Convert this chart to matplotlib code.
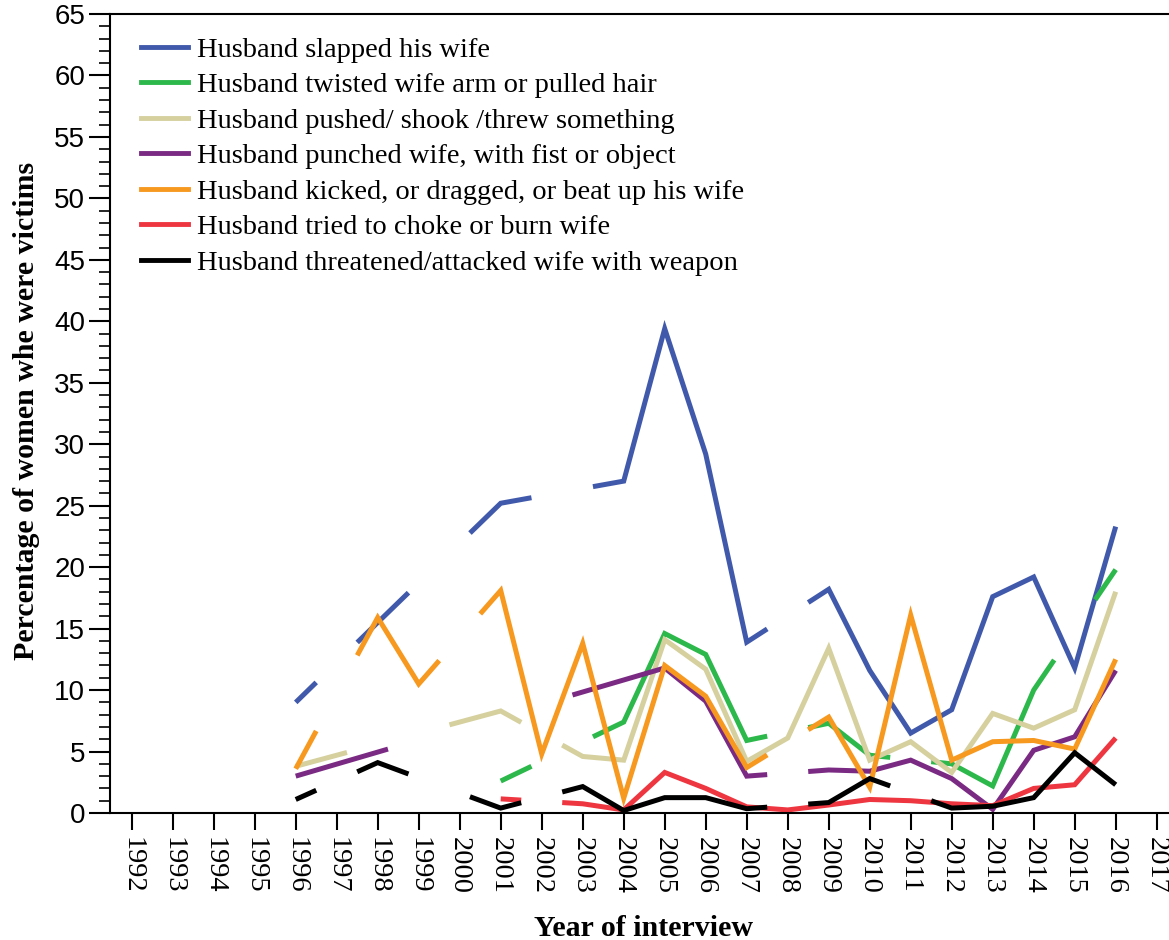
import numpy as np
import matplotlib
matplotlib.use("Agg")
import matplotlib.pyplot as plt
from matplotlib.lines import Line2D
from matplotlib.ticker import MultipleLocator

# survey years on the axis, data only for 1996-2016
tick_years = list(range(1992, 2018))
data_years = list(range(1996, 2017))

# percentage of women who were victims, None = no survey that year
slapped = [9.0, None, 15.5, None, None, 25.2, None, None, 27.0, 39.4, 29.2,
           13.9, None, 18.2, 11.6, 6.5, 8.4, 17.6, 19.2, 11.8, 23.3]
twisted = [None, None, None, None, None, 2.6, None, None, 7.4, 14.6, 12.9,
           5.9, None, 7.3, 4.7, None, 4.0, 2.2, 10.0, None, 19.8]
pushed = [3.8, None, None, None, None, 8.3, None, 4.6, 4.3, 14.1, 11.7,
          4.2, 6.1, 13.4, 4.3, 5.8, 3.3, 8.1, 6.9, 8.4, 18.0]
punched = [3.0, None, None, None, None, None, None, None, None, 11.8, 9.1,
           3.0, None, 3.5, 3.4, 4.3, 2.8, 0.3, 5.1, 6.2, 11.6]
kicked = [3.6, None, 15.9, 10.5, None, 18.1, 4.8, 13.8, 1.2, 12.0, 9.5,
          3.7, None, 7.8, 2.1, 16.1, 4.3, 5.8, 5.9, 5.2, 12.5]
choke = [None, None, None, None, None, 1.15, None, 0.75, 0.25, 3.3, 2.0,
         0.5, 0.25, 0.65, 1.1, 1.0, 0.75, 0.6, 2.0, 2.3, 6.1]
weapon = [1.1, None, 4.1, None, None, 0.4, None, 2.15, 0.2, 1.25, 1.25,
          0.35, None, 0.85, 2.8, None, 0.4, 0.55, 1.25, 4.9, 2.3]

series = [slapped, twisted, pushed, punched, kicked, choke, weapon]
names = ["Husband slapped his wife",
         "Husband twisted wife arm or pulled hair",
         "Husband pushed/ shook /threw something",
         "Husband punched wife, with fist or object",
         "Husband kicked, or dragged, or beat up his wife",
         "Husband tried to choke or burn wife",
         "Husband threatened/attacked wife with weapon"]
colors = ["#4059AB", "#2DB84B", "#D5D09E", "#7A2A83", "#F7981F", "#EE3640", "#000000"]


def gapped_line(years, values):
    # neighbouring years are joined solid, across missing years only the
    # first and last quarter of the segment is drawn
    pts = [(x, v) for x, v in zip(years, values) if v is not None]
    xs = [pts[0][0]]
    ys = [pts[0][1]]
    for (x0, y0), (x1, y1) in zip(pts[:-1], pts[1:]):
        if x1 - x0 > 1:
            xs += [x0 + 0.25 * (x1 - x0), np.nan, x0 + 0.75 * (x1 - x0), x1]
            ys += [y0 + 0.25 * (y1 - y0), np.nan, y0 + 0.75 * (y1 - y0), y1]
        else:
            xs.append(x1)
            ys.append(y1)
    return xs, ys


fig = plt.figure(figsize=(11.69, 9.4), dpi=100)
ax = fig.add_axes([0.0941, 0.1351, 0.9059, 0.8500])

for vals, col in zip(series, colors):
    xs, ys = gapped_line(data_years, vals)
    ax.plot(xs, ys, color=col, lw=3.6, solid_joinstyle="miter", solid_capstyle="butt")

ax.set_xlim(1991.47, 2017.3)
ax.set_ylim(0, 65)

ax.spines["right"].set_visible(False)
for s in ["left", "bottom", "top"]:
    ax.spines[s].set_linewidth(1.5)

ax.set_xticks(tick_years)
ax.set_xticklabels([str(y) for y in tick_years], rotation=-90, va="top", ha="center",
                   family="Liberation Serif", fontsize=20.5)
ax.yaxis.set_major_locator(MultipleLocator(5))
ax.yaxis.set_minor_locator(MultipleLocator(1))
for lab in ax.get_yticklabels():
    lab.set_family("Liberation Sans")
    lab.set_fontsize(20)
ax.tick_params(axis="y", which="major", length=15, width=1.5, pad=3)
ax.tick_params(axis="y", which="minor", length=8, width=1.2)
ax.tick_params(axis="x", which="major", length=12, width=1.5, pad=5)

fig.text(643 / 1169, 1 - 936 / 940, "Year of interview", ha="center", va="baseline",
         family="Liberation Serif", fontweight="bold", fontsize=21.5)
fig.text(27 / 1169, 1 - 411 / 940, "Percentage of women whe were victims", rotation=90,
         ha="center", va="center", family="Liberation Serif", fontweight="bold", fontsize=21.5)

handles = [Line2D([], [], color=c, lw=3.5) for c in colors]
ax.legend(handles, names, loc="upper left", bbox_to_anchor=(141 / 1169, 1 - 37 / 940),
          bbox_transform=fig.transFigure, frameon=False, borderpad=0, borderaxespad=0,
          handlelength=1.65, handletextpad=0.3, labelspacing=0.335,
          prop={"family": "Liberation Serif", "size": 20.5})

fig.savefig("out.png", dpi=100)
